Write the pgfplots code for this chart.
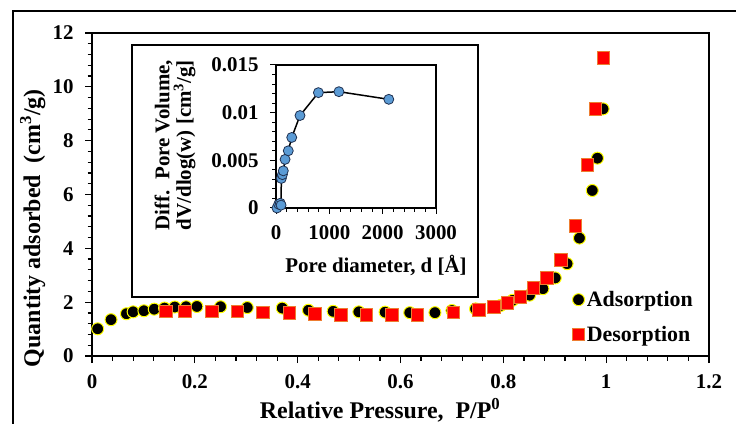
\documentclass[border=0pt]{standalone}
\usepackage{fontspec}
\setmainfont{Liberation Serif}
\usepackage{pgfplots}
\pgfplotsset{compat=1.18}
\definecolor{adsedge}{HTML}{FFFF00}
\definecolor{desfill}{HTML}{FF0000}
\definecolor{desedge}{HTML}{ED7D31}
\definecolor{psdfill}{HTML}{5B9BD5}
\definecolor{psdedge}{HTML}{1F3050}

\begin{document}
\begin{tikzpicture}
% outer chart frame (cut by the page on the right and bottom)
\draw[line width=2bp] (13bp,413bp) rectangle (780bp,-40bp);

\begin{axis}[
    at={(92bp,68bp)}, anchor=south west,
    scale only axis, width=617bp, height=323bp,
    xmin=0, xmax=1.2, ymin=0, ymax=12,
    clip=false,
    axis line style={line width=1.6bp},
    xtick={0,0.2,0.4,0.6,0.8,1,1.2},
    xticklabels={0,0.2,0.4,0.6,0.8,1,1.2},
    ytick={0,2,4,6,8,10,12},
    yticklabels={0,2,4,6,8,10,12},
    minor x tick num=4, minor y tick num=4,
    xtick pos=bottom, ytick pos=left,
    tick align=outside,
    major tick length=7bp, minor tick length=4.5bp,
    tick style={line width=1.2bp, black},
    tick label style={font=\fontsize{21}{24}\selectfont\bfseries},
    xticklabel style={yshift=-8bp},
    yticklabel style={xshift=-8bp},
    xlabel={Relative Pressure,\ \ P/P\textsuperscript{0}},
    ylabel={Quantity adsorbed\ \ (cm\textsuperscript{3}/g)},
    every axis x label/.style={at={(axis description cs:0.467,-0.195)}, anchor=base,
        font=\fontsize{24}{28}\selectfont\bfseries},
    every axis y label/.style={at={(axis description cs:-0.096,0.396)}, anchor=center, rotate=90,
        font=\fontsize{24}{28}\selectfont\bfseries},
    legend style={at={(0.778,0.207)}, anchor=north west, draw=none, fill=none,
        font=\fontsize{22}{26}\selectfont\bfseries, row sep=14bp, inner sep=0pt},
    legend cell align=left,
    legend image code/.code={\draw[mark repeat=2,mark phase=2,#1] plot coordinates {(0bp,0bp) (6bp,0bp) (12bp,0bp)};},
]
\addplot[only marks, mark=*, mark size=6bp,
    mark options={fill=black, draw=adsedge, line width=1bp}]
coordinates {
(0.011,1.01) (0.037,1.35) (0.067,1.57) (0.080,1.64) (0.101,1.68)
(0.121,1.74) (0.141,1.78) (0.161,1.82) (0.183,1.83) (0.204,1.84)
(0.250,1.83) (0.302,1.80) (0.370,1.78) (0.421,1.70) (0.469,1.66)
(0.519,1.64) (0.570,1.63) (0.618,1.61) (0.667,1.61) (0.700,1.69)
(0.746,1.75) (0.795,1.88) (0.818,2.07) (0.851,2.26) (0.877,2.50)
(0.901,2.90) (0.924,3.43) (0.948,4.38) (0.973,6.15) (0.983,7.35)
(0.994,9.18)
};
\addlegendentry{Adsorption}
\addplot[only marks, mark=square*, mark size=6.3bp,
    mark options={fill=desfill, draw=desedge, line width=1bp}]
coordinates {
(0.995,11.07) (0.979,9.18) (0.964,7.09) (0.940,4.84) (0.912,3.57)
(0.885,2.89) (0.859,2.52) (0.833,2.20) (0.808,1.98) (0.782,1.83)
(0.753,1.71) (0.703,1.61) (0.633,1.52) (0.583,1.52) (0.534,1.52)
(0.484,1.52) (0.434,1.56) (0.384,1.59) (0.332,1.62) (0.283,1.65)
(0.233,1.65) (0.181,1.65) (0.144,1.65)
};
\addlegendentry{Desorption}
\end{axis}

% inset chart area
\filldraw[fill=white, draw=black, line width=2bp] (132bp,127bp) rectangle (478bp,379bp);

\begin{axis}[
    at={(276bp,216bp)}, anchor=south west,
    scale only axis, width=160bp, height=143bp,
    xmin=0, xmax=3000, ymin=0, ymax=0.015,
    clip=false,
    axis line style={line width=1.6bp},
    scaled ticks=false,
    xtick={0,1000,2000,3000}, xticklabels={0,1000,2000,3000},
    ytick={0,0.005,0.01,0.015}, yticklabels={0,0.005,0.01,0.015},
    minor x tick num=4, minor y tick num=4,
    xtick pos=bottom, ytick pos=left,
    tick align=outside,
    major tick length=6bp, minor tick length=4bp,
    tick style={line width=1bp, black},
    tick label style={font=\fontsize{21}{24}\selectfont\bfseries},
    xticklabel style={yshift=-8bp},
    yticklabel style={xshift=-8bp},
    xlabel={Pore diameter, d [Å]},
    ylabel={Diff.\ \ Pore Volume,\\dV/dlog(w) [cm\textsuperscript{3}/g]},
    every axis x label/.style={at={(axis description cs:0.625,-0.399)}, anchor=center,
        font=\fontsize{21}{24}\selectfont\bfseries},
    every axis y label/.style={at={(axis description cs:-0.631,0.44)}, anchor=center, rotate=90,
        align=center, font=\fontsize{21}{20}\selectfont\bfseries},
]
\addplot[black, line width=1.5bp, mark=*, mark size=5bp,
    mark options={fill=psdfill, draw=psdedge, line width=0.8bp}]
coordinates {
(18,0.0000) (50,0.0004) (80,0.0005) (95,0.0003) (100,0.0031)
(120,0.0035) (137,0.0039) (170,0.0051) (230,0.0060) (295,0.0074)
(450,0.0097) (795,0.0121) (1180,0.0122) (2115,0.0114)
};
\end{axis}

\pgfresetboundingbox
\useasboundingbox (0bp,0bp) rectangle (736bp,424bp);
\end{tikzpicture}
\end{document}
